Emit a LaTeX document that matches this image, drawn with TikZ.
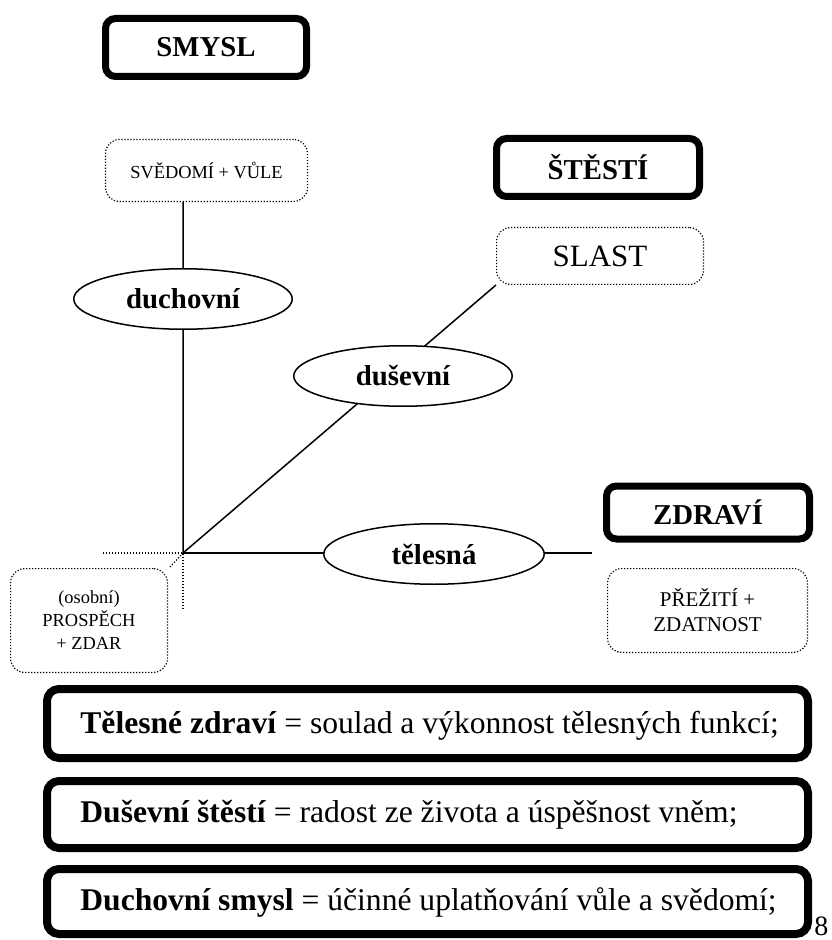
\documentclass[tikz,border=0pt]{standalone}
\usepackage{fontspec}
\setmainfont{Liberation Serif}
\usetikzlibrary{shapes.geometric,backgrounds}
\begin{document}
\begin{tikzpicture}[x=0.5pt,y=-0.5pt,
 thickbox/.style={draw, line width=3.5pt, rounded corners=5pt, fill=white, inner sep=0pt, font=\fontsize{14.4}{17}\selectfont\bfseries},
 dotbox/.style={draw, line width=0.6pt, dash pattern=on 0.6pt off 0.9pt, rounded corners=7pt, fill=white, inner sep=0pt, align=center},
 oval/.style={ellipse, draw, line width=0.75pt, fill=white, inner sep=0pt, font=\fontsize{14.4}{17}\selectfont\bfseries},
 bigbox/.style={draw, line width=4pt, rounded corners=6pt, fill=white, inner sep=0pt, minimum width=380.5pt},
 bigtext/.style={anchor=base west, inner sep=0pt, font=\fontsize{15.8}{19}\selectfont},
 link/.style={line width=0.75pt},
 dotlink/.style={line width=0.6pt, dash pattern=on 0.6pt off 0.9pt}]
\useasboundingbox (0,0) rectangle (831,940);

\node[thickbox, minimum width=100.5pt, minimum height=29pt] (smysl) at (206,47.5) {SMYSL};
\node[dotbox, minimum width=101pt, minimum height=31pt, font=\fontsize{9.2}{11}\selectfont] (svedomi) at (206.5,170.5) {SVĚDOMÍ + VŮLE};
\node[thickbox, minimum width=101.5pt, minimum height=29pt] (stesti) at (598,167.5) {ŠTĚSTÍ};
\node[dotbox, minimum width=103.4pt, minimum height=28.4pt, font=\fontsize{15.5}{18}\selectfont] (slast) at (600,256) {SLAST};
\node[thickbox, minimum width=101.5pt, minimum height=26.5pt] (zdravi) at (708,512.5) {ZDRAVÍ};
\node[dotbox, minimum width=99.9pt, minimum height=41.9pt, font=\fontsize{10.5}{12.5}\selectfont] (preziti) at (707.5,610.5) {PŘEŽITÍ +\\ZDATNOST};
\node[dotbox, minimum width=78.4pt, minimum height=51.9pt, font=\fontsize{9.2}{11.5}\selectfont] (osobni) at (89,620.5) {(osobní)\\PROSPĚCH\\+ ZDAR};
\node[oval, minimum width=109.25pt, minimum height=30.25pt] (duchovni) at (183,299) {duchovní};
\node[oval, minimum width=109.25pt, minimum height=30.25pt] (dusevni) at (403,376) {duševní};
\node[oval, minimum width=110.25pt, minimum height=30.25pt] (telesna) at (434,554) {tělesná};

\node[bigbox, minimum height=34.5pt] (b1) at (427.5,723.5) {};
\node[bigbox, minimum height=33.5pt] (b2) at (427.5,814.5) {};
\node[bigbox, minimum height=32.5pt] (b3) at (427.5,901.5) {};
\node[bigtext] (t1) at (80,733) {\textbf{Tělesné zdraví} = soulad a výkonnost tělesných funkcí;};
\node[bigtext] (t2) at (80,822) {\textbf{Duševní štěstí} = radost ze života a úspěšnost vněm;};
\node[bigtext] (t3) at (80,910) {\textbf{Duchovní smysl} = účinné uplatňování vůle a svědomí;};
\node[anchor=base west, inner sep=0pt, font=\fontsize{14}{17}\selectfont] (pg) at (814,935) {8};

\coordinate (o) at (183,553);
\coordinate (hend) at (592,553);
\coordinate (dl) at (103,553);
\coordinate (dd) at (183,610);
\coordinate (dg) at (170,567);
\begin{pgfonlayer}{background}
\draw[link] (svedomi.south -| o) -- (o) -- (slast.south west);
\draw[link] (o) -- (hend);
\draw[dotlink] (dl) -- (o) -- (dd);
\draw[dotlink] (o) -- (dg);
\end{pgfonlayer}
\end{tikzpicture}
\end{document}
